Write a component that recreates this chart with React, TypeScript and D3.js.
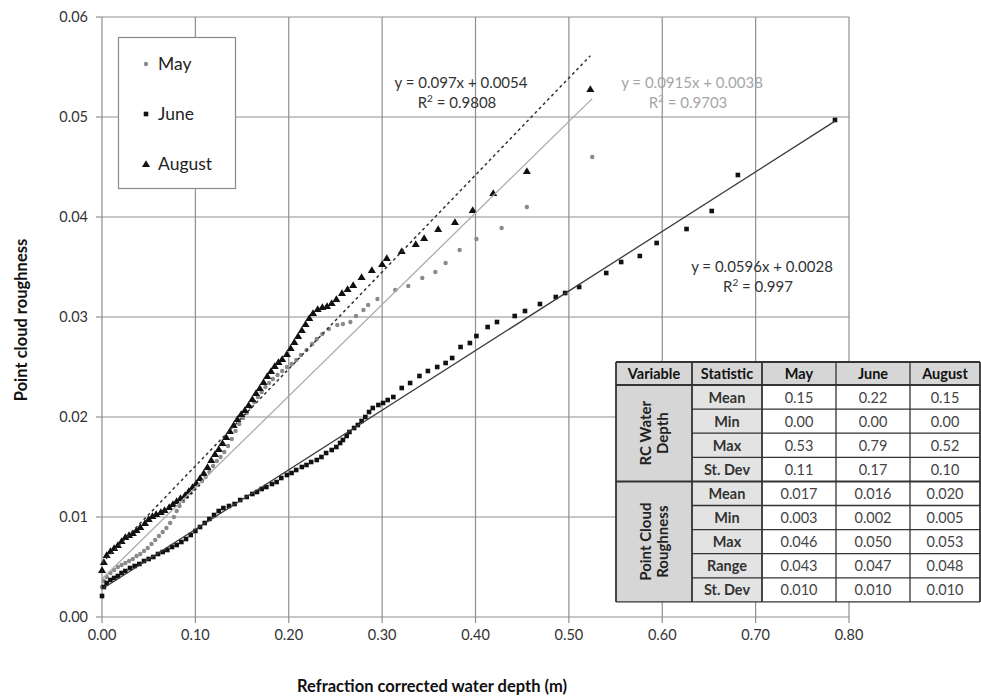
import React from 'react';
import * as d3 from 'd3';

// [depth (m), roughness]
const mayPoints: [number, number][] = [
  [0.000, 0.0030], [0.002, 0.0036], [0.005, 0.0040], [0.009, 0.0044], [0.013, 0.0047], [0.017, 0.0050],
  [0.021, 0.0052], [0.025, 0.0054], [0.029, 0.0056], [0.033, 0.0058], [0.037, 0.0061], [0.041, 0.0063],
  [0.045, 0.0066], [0.049, 0.0069], [0.053, 0.0073], [0.057, 0.0077], [0.061, 0.0081], [0.065, 0.0085],
  [0.069, 0.0089], [0.073, 0.0094], [0.077, 0.0100], [0.080, 0.0106], [0.083, 0.0111], [0.087, 0.0116],
  [0.091, 0.0120], [0.095, 0.0124], [0.099, 0.0128], [0.103, 0.0132], [0.107, 0.0136], [0.111, 0.0140],
  [0.115, 0.0145], [0.119, 0.0151], [0.123, 0.0156], [0.127, 0.0160], [0.131, 0.0165], [0.135, 0.0171],
  [0.139, 0.0178], [0.143, 0.0186], [0.147, 0.0193], [0.151, 0.0199], [0.155, 0.0204], [0.159, 0.0210],
  [0.163, 0.0215], [0.167, 0.0220], [0.171, 0.0225], [0.175, 0.0230], [0.179, 0.0234], [0.183, 0.0238],
  [0.188, 0.0242], [0.193, 0.0246], [0.198, 0.0250], [0.203, 0.0253], [0.208, 0.0257], [0.213, 0.0262],
  [0.219, 0.0267], [0.225, 0.0273], [0.230, 0.0278], [0.236, 0.0283], [0.243, 0.0288], [0.252, 0.0292],
  [0.258, 0.0293], [0.266, 0.0295], [0.272, 0.0301], [0.280, 0.0307], [0.285, 0.0312], [0.295, 0.0318],
  [0.314, 0.0327], [0.328, 0.0331], [0.343, 0.0339], [0.357, 0.0345], [0.368, 0.0354], [0.383, 0.0367],
  [0.401, 0.0378], [0.428, 0.0389], [0.455, 0.0410], [0.525, 0.0460],
];

const junePoints: [number, number][] = [
  [0.000, 0.0021], [0.002, 0.0030], [0.005, 0.0034], [0.009, 0.0037], [0.013, 0.0039], [0.017, 0.0041],
  [0.021, 0.0044], [0.025, 0.0046], [0.030, 0.0049], [0.035, 0.0051], [0.040, 0.0053], [0.045, 0.0056],
  [0.050, 0.0058], [0.055, 0.0060], [0.060, 0.0063], [0.065, 0.0065], [0.070, 0.0067], [0.075, 0.0070],
  [0.080, 0.0072], [0.085, 0.0075], [0.090, 0.0078], [0.095, 0.0082], [0.100, 0.0086], [0.105, 0.0090],
  [0.110, 0.0094], [0.115, 0.0098], [0.120, 0.0102], [0.125, 0.0106], [0.130, 0.0109], [0.136, 0.0111],
  [0.142, 0.0113], [0.148, 0.0117], [0.155, 0.0120], [0.161, 0.0123], [0.166, 0.0125], [0.171, 0.0128],
  [0.176, 0.0130], [0.182, 0.0133], [0.187, 0.0135], [0.192, 0.0139], [0.198, 0.0142], [0.203, 0.0144],
  [0.208, 0.0147], [0.214, 0.0150], [0.219, 0.0152], [0.224, 0.0155], [0.230, 0.0157], [0.235, 0.0160],
  [0.240, 0.0164], [0.246, 0.0167], [0.251, 0.0170], [0.255, 0.0174], [0.258, 0.0177], [0.262, 0.0181],
  [0.265, 0.0185], [0.270, 0.0189], [0.274, 0.0192], [0.278, 0.0196], [0.282, 0.0200], [0.286, 0.0205],
  [0.290, 0.0209], [0.296, 0.0212], [0.301, 0.0214], [0.306, 0.0217], [0.312, 0.0220], [0.321, 0.0229],
  [0.330, 0.0234], [0.340, 0.0241], [0.349, 0.0246], [0.359, 0.0250], [0.368, 0.0254], [0.375, 0.0259],
  [0.384, 0.0270], [0.394, 0.0274], [0.401, 0.0281], [0.413, 0.0290], [0.423, 0.0295], [0.442, 0.0301],
  [0.453, 0.0306], [0.469, 0.0313], [0.486, 0.0320], [0.496, 0.0324], [0.511, 0.0330], [0.540, 0.0344],
  [0.556, 0.0355], [0.576, 0.0361], [0.594, 0.0374], [0.626, 0.0388], [0.653, 0.0406], [0.681, 0.0442],
  [0.785, 0.0497],
];

const augustPoints: [number, number][] = [
  [0.000, 0.0047], [0.002, 0.0055], [0.005, 0.0062], [0.009, 0.0066], [0.013, 0.0069], [0.017, 0.0072],
  [0.021, 0.0076], [0.025, 0.0080], [0.029, 0.0082], [0.033, 0.0084], [0.037, 0.0087], [0.041, 0.0090],
  [0.046, 0.0094], [0.050, 0.0098], [0.054, 0.0101], [0.058, 0.0103], [0.063, 0.0105], [0.067, 0.0107],
  [0.072, 0.0110], [0.076, 0.0113], [0.080, 0.0116], [0.084, 0.0119], [0.089, 0.0122], [0.093, 0.0126],
  [0.097, 0.0130], [0.101, 0.0134], [0.105, 0.0139], [0.109, 0.0144], [0.113, 0.0150], [0.117, 0.0157],
  [0.121, 0.0163], [0.125, 0.0168], [0.129, 0.0174], [0.133, 0.0180], [0.137, 0.0186], [0.141, 0.0192],
  [0.145, 0.0198], [0.149, 0.0203], [0.153, 0.0207], [0.157, 0.0212], [0.161, 0.0218], [0.165, 0.0224],
  [0.169, 0.0229], [0.173, 0.0235], [0.177, 0.0241], [0.181, 0.0246], [0.185, 0.0251], [0.189, 0.0255],
  [0.193, 0.0258], [0.198, 0.0263], [0.202, 0.0269], [0.206, 0.0275], [0.210, 0.0281], [0.214, 0.0287],
  [0.218, 0.0293], [0.222, 0.0299], [0.226, 0.0304], [0.231, 0.0308], [0.236, 0.0310], [0.241, 0.0311],
  [0.246, 0.0314], [0.251, 0.0318], [0.257, 0.0324], [0.263, 0.0328], [0.269, 0.0332], [0.278, 0.0340],
  [0.289, 0.0347], [0.300, 0.0353], [0.305, 0.0359], [0.321, 0.0366], [0.336, 0.0373], [0.345, 0.0379],
  [0.360, 0.0388], [0.378, 0.0395], [0.397, 0.0407], [0.419, 0.0424], [0.455, 0.0446], [0.523, 0.0528],
];

const seriesNames = ['May', 'June', 'August'];
const trendSlopes = [0.0915, 0.0596, 0.097];
const trendIntercepts = [0.0038, 0.0028, 0.0054];
const trendEnds = [0.525, 0.785, 0.523];
const trendEquations = ['y = 0.0915x + 0.0038', 'y = 0.0596x + 0.0028', 'y = 0.097x + 0.0054'];
const trendR2 = ['0.9703', '0.997', '0.9808'];

const xTicks = [0, 0.1, 0.2, 0.3, 0.4, 0.5, 0.6, 0.7, 0.8];
const yTicks = [0, 0.01, 0.02, 0.03, 0.04, 0.05, 0.06];

const tableHeaders = ['Variable', 'Statistic', 'May', 'June', 'August'];
const tableGroups = [['RC Water', 'Depth'], ['Point Cloud', 'Roughness']];
const tableGroupSizes = [4, 5];
const tableStats = ['Mean', 'Min', 'Max', 'St. Dev', 'Mean', 'Min', 'Max', 'Range', 'St. Dev'];
const tableMay = ['0.15', '0.00', '0.53', '0.11', '0.017', '0.003', '0.046', '0.043', '0.010'];
const tableJune = ['0.22', '0.00', '0.79', '0.17', '0.016', '0.002', '0.050', '0.047', '0.010'];
const tableAugust = ['0.15', '0.00', '0.52', '0.10', '0.020', '0.005', '0.053', '0.048', '0.010'];

const FONT = 'Lato, "Open Sans", sans-serif';

export default function App() {
  const width = 981;
  const height = 698;
  const x = d3.scaleLinear().domain([0, 0.8]).range([102, 849]);
  const y = d3.scaleLinear().domain([0, 0.06]).range([617, 17]);

  const gridColor = '#8f8f8f';
  const triangle = d3.symbol().type(d3.symbolTriangle).size(28)();

  const marker = (name: string, cx: number, cy: number, key: any) => {
    if (name === 'May') return <circle key={key} cx={cx} cy={cy} r={2.2} fill="#8a8a8a" />;
    if (name === 'June') return <rect key={key} x={cx - 2.3} y={cy - 2.3} width={4.6} height={4.6} fill="#111" />;
    return <path key={key} d={triangle!} transform={`translate(${cx},${cy + 0.8})`} fill="#111" />;
  };

  const seriesData = [mayPoints, junePoints, augustPoints];
  const trendStyles = [
    { stroke: '#ababab', dash: undefined, w: 1.3 },
    { stroke: '#3a3a3a', dash: undefined, w: 1.3 },
    { stroke: '#333', dash: '3,3', w: 1.5 },
  ];
  const eqPos = [
    { x: 692, y: 88, color: '#a6a6a6' },
    { x: 762, y: 272, color: '#333' },
    { x: 461, y: 88, color: '#333' },
  ];

  // table geometry
  const colEdges = [616, 692, 762, 836, 910, 980];
  const tableTop = 362;
  const headerH = 23;
  const rowH = 24.1;
  const rowY = (i: number) => tableTop + headerH + i * rowH;
  const valueCols = [tableMay, tableJune, tableAugust];

  return (
    <svg width={width} height={height} style={{ position: 'absolute', left: 0, top: 0, background: '#fff' }} fontFamily={FONT}>
      {/* grid */}
      {yTicks.map(t => (
        <line key={'gy' + t} x1={x(0)} x2={x(0.8)} y1={y(t)} y2={y(t)} stroke={gridColor} strokeWidth={1.2} />
      ))}
      {xTicks.map(t => (
        <line key={'gx' + t} x1={x(t)} x2={x(t)} y1={y(0.06)} y2={y(0) + 6} stroke={gridColor} strokeWidth={1.2} />
      ))}
      {yTicks.map(t => (
        <g key={'ty' + t}>
          <line x1={x(0) - 6} x2={x(0)} y1={y(t)} y2={y(t)} stroke={gridColor} strokeWidth={1.2} />
          <text x={88} y={y(t) + 5} textAnchor="end" fontSize={14.5} fill="#333">{t.toFixed(2)}</text>
        </g>
      ))}
      {xTicks.map(t => (
        <text key={'tx' + t} x={x(t)} y={y(0) + 23} textAnchor="middle" fontSize={14.5} fill="#333">{t.toFixed(2)}</text>
      ))}

      {/* points */}
      {seriesData.map((pts, si) => (
        <g key={'s' + si}>
          {pts.map((p, i) => marker(seriesNames[si], x(p[0]), y(p[1]), i))}
        </g>
      ))}

      {/* trend lines */}
      {trendSlopes.map((m, i) => (
        <line
          key={'tr' + i}
          x1={x(0)}
          y1={y(trendIntercepts[i])}
          x2={x(trendEnds[i])}
          y2={y(m * trendEnds[i] + trendIntercepts[i])}
          stroke={trendStyles[i].stroke}
          strokeWidth={trendStyles[i].w}
          strokeDasharray={trendStyles[i].dash}
        />
      ))}

      {/* equations */}
      {trendEquations.map((eq, i) => (
        <g key={'eq' + i} fill={eqPos[i].color} fontSize={15}>
          <text x={eqPos[i].x} y={eqPos[i].y} textAnchor="middle">{eq}</text>
          <text x={eqPos[i].x - 4} y={eqPos[i].y + 20} textAnchor="middle">
            R<tspan fontSize={10} dy={-6}>2</tspan><tspan dy={6}>{' = ' + trendR2[i]}</tspan>
          </text>
        </g>
      ))}

      {/* legend */}
      <rect x={118.5} y={37.5} width={117} height={151} fill="#fff" stroke="#8a8a8a" strokeWidth={1.2} />
      {seriesNames.map((n, i) => (
        <g key={'lg' + n}>
          {marker(n, 146, 64 + i * 50, 'm')}
          <text x={158} y={70 + i * 50} fontSize={17.5} fill="#222">{n}</text>
        </g>
      ))}

      {/* axis titles */}
      <text x={432} y={692} textAnchor="middle" fontSize={16.5} fontWeight="bold" fill="#111">Refraction corrected water depth (m)</text>
      <text transform="translate(27,320) rotate(-90)" textAnchor="middle" fontSize={16.5} fontWeight="bold" fill="#111">Point cloud roughness</text>

      {/* table */}
      <g>
        <rect x={colEdges[0]} y={tableTop} width={colEdges[5] - colEdges[0]} height={rowY(9) - tableTop} fill="#fff" />
        <rect x={colEdges[0]} y={tableTop} width={colEdges[5] - colEdges[0]} height={headerH} fill="#d6d6d6" />
        <rect x={colEdges[0]} y={rowY(0)} width={colEdges[1] - colEdges[0]} height={rowY(9) - rowY(0)} fill="#d6d6d6" />
        <rect x={colEdges[1]} y={rowY(0)} width={colEdges[2] - colEdges[1]} height={rowY(9) - rowY(0)} fill="#e3e3e3" />
        {tableHeaders.map((h, i) => (
          <text key={'th' + h} x={(colEdges[i] + colEdges[i + 1]) / 2} y={tableTop + 17} textAnchor="middle" fontSize={14.5} fontWeight="bold" fill="#111">{h}</text>
        ))}
        {tableStats.map((s, r) => (
          <g key={'tr' + r}>
            <text x={(colEdges[1] + colEdges[2]) / 2} y={rowY(r) + 17.5} textAnchor="middle" fontSize={14.5} fontWeight="bold" fill="#333">{s}</text>
            {valueCols.map((col, c) => (
              <text key={c} x={(colEdges[c + 2] + colEdges[c + 3]) / 2} y={rowY(r) + 17.5} textAnchor="middle" fontSize={14.5} fill="#444">{col[r]}</text>
            ))}
          </g>
        ))}
        {tableGroups.map((g, gi) => {
          const start = gi === 0 ? 0 : tableGroupSizes[0];
          const cy = (rowY(start) + rowY(start + tableGroupSizes[gi])) / 2;
          const cx = (colEdges[0] + colEdges[1]) / 2;
          return (
            <g key={'grp' + gi} transform={`translate(${cx},${cy}) rotate(-90)`}>
              <text x={0} y={-3} textAnchor="middle" fontSize={15} fontWeight="bold" fill="#222">{g[0]}</text>
              <text x={0} y={14} textAnchor="middle" fontSize={15} fontWeight="bold" fill="#222">{g[1]}</text>
            </g>
          );
        })}
        {/* table lines */}
        {d3.range(10).map(r => (
          <line key={'hl' + r} x1={r === 0 || r === 4 || r === 9 ? colEdges[0] : colEdges[1]} x2={colEdges[5]} y1={rowY(r)} y2={rowY(r)} stroke="#333" strokeWidth={r === 0 || r === 4 ? 2 : 1.3} />
        ))}
        <line x1={colEdges[0]} x2={colEdges[5]} y1={tableTop} y2={tableTop} stroke="#333" strokeWidth={1.8} />
        {colEdges.map((cx, i) => (
          <line key={'vl' + i} x1={cx} x2={cx} y1={tableTop} y2={rowY(9)} stroke="#333" strokeWidth={i === 0 || i === 5 || i === 1 || i === 2 ? 1.8 : 1.3} />
        ))}
      </g>
    </svg>
  );
}
